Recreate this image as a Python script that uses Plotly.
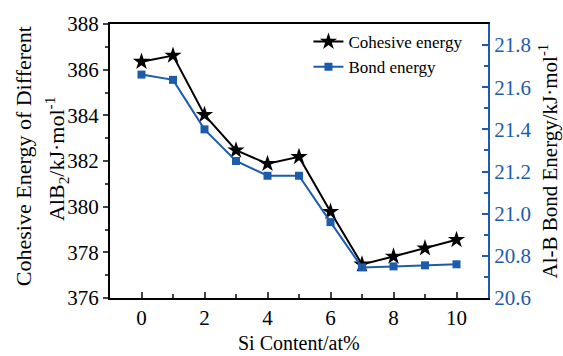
import plotly.graph_objects as go

si_content = [0, 1, 2, 3, 4, 5, 6, 7, 8, 9, 10]
cohesive_energy = [386.35, 386.62, 384.02, 382.47, 381.88, 382.18, 379.78, 377.47, 377.82, 378.18, 378.55]
bond_energy = [21.66, 21.635, 21.40, 21.25, 21.18, 21.18, 20.96, 20.745, 20.75, 20.755, 20.76]

BLUE = "#1d5cac"
FONT = "Liberation Serif"

fig = go.Figure()
fig.add_trace(go.Scatter(
    x=si_content, y=cohesive_energy, name="Cohesive energy", mode="lines+markers",
    line=dict(color="black", width=2), marker=dict(symbol="star", size=13, color="black"),
))
fig.add_trace(go.Scatter(
    x=si_content, y=bond_energy, name="Bond energy", mode="lines+markers", yaxis="y2",
    line=dict(color=BLUE, width=2), marker=dict(symbol="square", size=8, color=BLUE),
))

fig.update_layout(
    width=563, height=356,
    margin=dict(l=110, r=75, t=22, b=58),
    plot_bgcolor="white", paper_bgcolor="white",
    font=dict(family=FONT, size=21, color="black"),
    showlegend=True,
    legend=dict(x=0.525, y=1.0, xanchor="left", yanchor="top", bgcolor="rgba(0,0,0,0)",
                font=dict(family=FONT, size=17), tracegroupgap=0),
    xaxis=dict(range=[-1, 11], tickvals=[0, 2, 4, 6, 8, 10], ticks="inside", ticklen=6,
               tickwidth=1.5, showline=True, linecolor="black", linewidth=2, mirror=True,
               showgrid=False, zeroline=False,
               minor=dict(ticks="inside", dtick=1, tick0=0, ticklen=4, tickwidth=1.5, showgrid=False),
               tickfont=dict(size=21)),
    yaxis=dict(range=[376, 388], dtick=2, ticks="outside", ticklen=5, tickwidth=1.5,
               showline=True, linecolor="black", linewidth=2, showgrid=False, zeroline=False,
               minor=dict(ticks="outside", dtick=1, ticklen=3, tickwidth=1.5, showgrid=False),
               tickfont=dict(size=21)),
    yaxis2=dict(range=[20.6, 21.9], tickvals=[20.6, 20.8, 21.0, 21.2, 21.4, 21.6, 21.8],
                ticktext=["20.6", "20.8", "21.0", "21.2", "21.4", "21.6", "21.8"],
                overlaying="y", side="right", ticks="inside", ticklen=6, tickwidth=1.5,
                showline=True, linecolor=BLUE, linewidth=2, showgrid=False, zeroline=False,
                minor=dict(ticks="inside", dtick=0.1, tick0=20.6, ticklen=4, tickwidth=1.5, showgrid=False),
                tickfont=dict(size=21, color=BLUE), tickcolor=BLUE),
)

fig.add_annotation(text="Si Content/at%", xref="paper", yref="paper", x=0.5, y=-0.115,
                   xanchor="center", yanchor="top", showarrow=False, font=dict(size=20))
fig.add_annotation(text="Cohesive Energy of Different", xref="paper", yref="paper",
                   x=-0.23, y=0.518, xanchor="center", yanchor="middle", textangle=-90,
                   showarrow=False, font=dict(size=22))
fig.add_annotation(text="AlB<sub>2</sub>/kJ·mol<sup>-1</sup>", xref="paper", yref="paper",
                   x=-0.143, y=0.507, xanchor="center", yanchor="middle", textangle=-90,
                   showarrow=False, font=dict(size=22))
fig.add_annotation(text="Al-B Bond Energy/kJ·mol<sup>-1</sup>", xref="paper", yref="paper",
                   x=1.16, y=0.5, xanchor="center", yanchor="middle", textangle=-90,
                   showarrow=False, font=dict(size=21))

fig.write_html("out.html")
